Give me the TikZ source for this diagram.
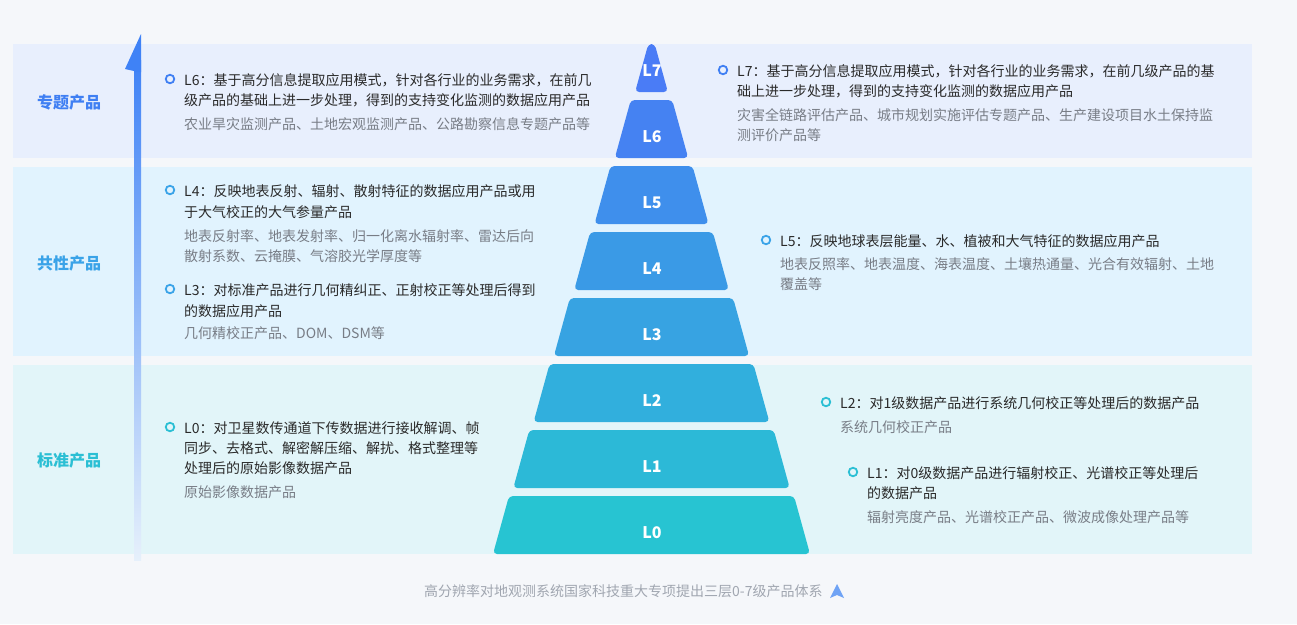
\documentclass[tikz,border=0pt]{standalone}
\usepackage{fontspec}
\setmainfont{Noto Sans CJK SC}
\definecolor{bgc}{HTML}{F5F7FA}
\definecolor{bandA}{HTML}{E8EFFD}
\definecolor{bandB}{HTML}{E1F3FE}
\definecolor{bandC}{HTML}{E2F5F9}
\definecolor{cmain}{HTML}{2A2A2A}
\definecolor{csub}{HTML}{787D86}
\definecolor{gA}{HTML}{3F7FF3}
\definecolor{gB}{HTML}{3AA3E8}
\definecolor{gC}{HTML}{2BBFD4}
\definecolor{arrtop}{HTML}{3F82F6}
\definecolor{arrmid}{HTML}{8CBDF9}
\definecolor{arrbot}{HTML}{E6F0FB}
\definecolor{capc}{HTML}{A0A6B0}
\definecolor{iconc}{HTML}{6FA3F5}
\definecolor{cL0}{HTML}{27C4D2}
\definecolor{cL1}{HTML}{2CB9D7}
\definecolor{cL2}{HTML}{31AFDD}
\definecolor{cL3}{HTML}{37A3E2}
\definecolor{cL4}{HTML}{3A9AE6}
\definecolor{cL5}{HTML}{3F8FEC}
\definecolor{cL6}{HTML}{4582F2}
\definecolor{cL7}{HTML}{4A7CF6}
\tikzset{
  mainline/.style={anchor=west, inner sep=0pt, text=cmain, font=\fontsize{14}{14}\selectfont, text height=11.6pt, text depth=1pt},
  subline/.style={mainline, text=csub},
  bul/.style={circle, draw=#1, line width=1.8pt, minimum size=8.5pt, inner sep=0pt},
  grouplabel/.style={font=\fontsize{16}{16}\selectfont\bfseries, inner sep=0pt},
  lvlabel/.style={font=\fontsize{16}{16}\selectfont\bfseries, text=white, inner sep=0pt}
}
\begin{document}
\begin{tikzpicture}[x=1pt,y=-1pt]
\useasboundingbox (0,0) rectangle (1297,624);
\fill[bgc] (0,0) rectangle (1297,624);
% bands
\fill[bandA] (13,44) rectangle (1252,158);
\fill[bandB] (13,167) rectangle (1252,356);
\fill[bandC] (13,365) rectangle (1252,554);
% arrow
\shade[top color=arrtop, middle color=arrmid, bottom color=arrbot] (134,60) rectangle (141,560);
\fill[arrtop] (141,34) -- (141,72) -- (134,72) -- (134,71) -- (125,69) -- cycle;
% group labels
\node[grouplabel, text=gA] (gtop) at (69,102) {专题产品};
\node[grouplabel, text=gB] (gmid) at (69,263) {共性产品};
\node[grouplabel, text=gC] (gbot) at (69,460) {标准产品};
% pyramid
\foreach \i/\ybot/\ytop/\hwb/\hwt in {0/554/496/158.5/142.5, 1/488/430/138.2/122.2, 2/422/364/117.9/101.9, 3/356/298/97.6/81.6, 4/290/232/77.3/61.3, 5/224/166/57.0/41.0, 6/158/100/36.7/20.7, 7/92/44/16.4/3.2}{
  \fill[cL\i, rounded corners=4pt] ({651.5-\hwb},\ybot) -- ({651.5-\hwt},\ytop) -- ({651.5+\hwt},\ytop) -- ({651.5+\hwb},\ybot) -- cycle;
  \node[lvlabel] (lv\i) at (652,{\ybot-21}) {L\i};
}
% L6
\node[bul=gA] (b6) at (170,79) {};
\node[mainline] (t6a) at (184,80) {L6：基于高分信息提取应用模式，针对各行业的业务需求，在前几};
\node[mainline] (t6b) at (184,100) {级产品的基础上进一步处理，得到的支持变化监测的数据应用产品};
\node[subline] (s6a) at (184,124) {农业旱灾监测产品、土地宏观监测产品、公路勘察信息专题产品等};
% L7
\node[bul=gA] (b7) at (723,70) {};
\node[mainline] (t7a) at (737,71) {L7：基于高分信息提取应用模式，针对各行业的业务需求，在前几级产品的基};
\node[mainline] (t7b) at (737,91) {础上进一步处理，得到的支持变化监测的数据应用产品};
\node[subline] (s7a) at (737,115) {灾害全链路评估产品、城市规划实施评估专题产品、生产建设项目水土保持监};
\node[subline] (s7b) at (737,135) {测评价产品等};
% L4
\node[bul=gB] (b4) at (170,190) {};
\node[mainline] (t4a) at (184,191) {L4：反映地表反射、辐射、散射特征的数据应用产品或用};
\node[mainline] (t4b) at (184,212) {于大气校正的大气参量产品};
\node[subline] (s4a) at (184,236) {地表反射率、地表发射率、归一化离水辐射率、雷达后向};
\node[subline] (s4b) at (184,256) {散射系数、云掩膜、气溶胶光学厚度等};
% L3
\node[bul=gB] (b3) at (170,289) {};
\node[mainline] (t3a) at (184,290) {L3：对标准产品进行几何精纠正、正射校正等处理后得到};
\node[mainline] (t3b) at (184,311) {的数据应用产品};
\node[subline] (s3a) at (184,333) {几何精校正产品、DOM、DSM等};
% L5
\node[bul=gB] (b5) at (766,240) {};
\node[mainline] (t5a) at (780,241) {L5：反映地球表层能量、水、植被和大气特征的数据应用产品};
\node[subline] (s5a) at (780,264) {地表反照率、地表温度、海表温度、土壤热通量、光合有效辐射、土地};
\node[subline] (s5b) at (780,284) {覆盖等};
% L0
\node[bul=gC] (b0) at (170,427) {};
\node[mainline] (t0a) at (184,428) {L0：对卫星数传通道下传数据进行接收解调、帧};
\node[mainline] (t0b) at (184,448) {同步、去格式、解密解压缩、解扰、格式整理等};
\node[mainline] (t0c) at (184,468) {处理后的原始影像数据产品};
\node[subline] (s0a) at (184,492) {原始影像数据产品};
% L2
\node[bul=gC] (b2) at (826,402) {};
\node[mainline] (t2a) at (840,403) {L2：对1级数据产品进行系统几何校正等处理后的数据产品};
\node[subline] (s2a) at (840,427) {系统几何校正产品};
% L1
\node[bul=gC] (b1) at (853,472) {};
\node[mainline] (t1a) at (867,473) {L1：对0级数据产品进行辐射校正、光谱校正等处理后};
\node[mainline] (t1b) at (867,493) {的数据产品};
\node[subline] (s1a) at (867,517) {辐射亮度产品、光谱校正产品、微波成像处理产品等};
% caption
\node[anchor=west, inner sep=0pt, text=capc, font=\fontsize{14}{14}\selectfont, text height=11.2pt, text depth=1pt] (cap) at (424,591) {高分辨率对地观测系统国家科技重大专项提出三层0-7级产品体系};
\fill[iconc] (837,584) -- (844,598) -- (837,595) -- (830,598) -- cycle;
\end{tikzpicture}
\end{document}
